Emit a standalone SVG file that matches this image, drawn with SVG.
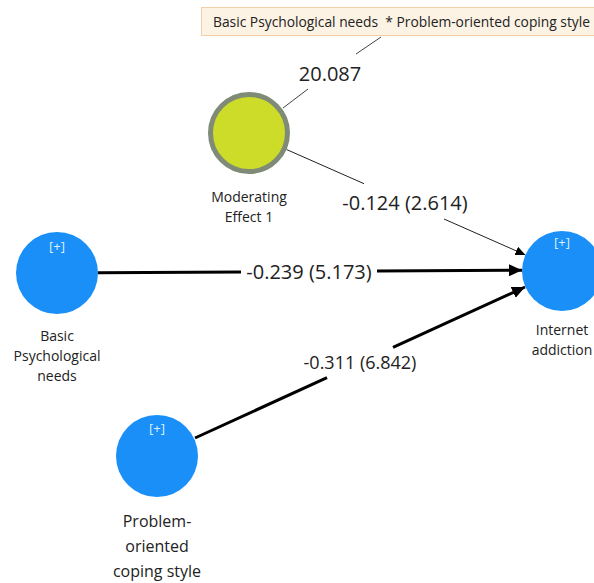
<svg xmlns="http://www.w3.org/2000/svg" width="594" height="583" viewBox="0 0 594 583">
<defs>
<style>
text{font-family:"Open Sans","Noto Sans","DejaVu Sans",sans-serif;}
.lbl{fill:#222;text-anchor:middle;font-size:14px;}
.num{fill:#222;font-size:20px;text-anchor:middle;}
.plus{fill:#dfefff;font-size:13px;text-anchor:middle;}
.lv{fill:#1a8ff7;}
.thick{stroke:#000;stroke-width:3;fill:none;}
.thin{stroke:#222;stroke-width:1;fill:none;}
.grey{stroke:#444;stroke-width:1;fill:none;}
</style>
<marker id="ahB" markerUnits="userSpaceOnUse" markerWidth="14" markerHeight="12" refX="13" refY="6" orient="auto"><path d="M0,0 L13,6 L0,12 Z" fill="#000"/></marker>
<marker id="ahS" markerUnits="userSpaceOnUse" markerWidth="11" markerHeight="10" refX="10" refY="4.5" orient="auto"><path d="M0,0 L10,4.5 L0,9 Z" fill="#000"/></marker>
</defs>
<g id="connectors">
<line class="grey" x1="381" y1="37" x2="356" y2="54"/>
<line class="grey" x1="308" y1="89" x2="283" y2="108"/>
<line class="thin" x1="286.5" y1="149.5" x2="364" y2="183.7"/>
<line class="thin" x1="444" y1="219" x2="525.4" y2="254.9" marker-end="url(#ahS)"/>
<line class="thick" x1="98" y1="272.8" x2="241" y2="271.9"/>
<line class="thick" x1="377" y1="271.1" x2="522" y2="270.2" marker-end="url(#ahB)"/>
<line class="thick" x1="195" y1="438" x2="327" y2="377.6"/>
<line class="thick" x1="393" y1="347.4" x2="525" y2="287" marker-end="url(#ahB)"/>
<text class="num" x="330" y="81">20.087</text>
<text class="num" x="405" y="210">-0.124 (2.614)</text>
<text class="num" x="309" y="279">-0.239 (5.173)</text>
<text class="num" x="360" y="369" style="font-size:18px">-0.311 (6.842)</text>
</g>
<g id="interaction-term">
<rect x="201.5" y="7.5" width="400" height="28" fill="#fdf3e4" stroke="#f2cfa6" stroke-width="1"/>
<text x="213" y="27" xml:space="preserve" textLength="377" lengthAdjust="spacingAndGlyphs" style="font-size:14px;fill:#222;white-space:pre">Basic Psychological needs  * Problem-oriented coping style</text>
</g>
<g id="moderating-effect">
<circle cx="249" cy="133" r="38.5" fill="#cddc29" stroke="#7f8b77" stroke-width="5"/>
<text class="lbl" x="249" y="202">Moderating</text>
<text class="lbl" x="249" y="222">Effect 1</text>
</g>
<g id="basic-psychological-needs">
<circle class="lv" cx="57" cy="273" r="41"/>
<text class="plus" x="57" y="251">[+]</text>
<text class="lbl" x="57" y="341">Basic</text>
<text class="lbl" x="57" y="361">Psychological</text>
<text class="lbl" x="57" y="381">needs</text>
</g>
<g id="internet-addiction">
<circle class="lv" cx="562" cy="271" r="40"/>
<text class="plus" x="562" y="247">[+]</text>
<text class="lbl" x="562" y="335">Internet</text>
<text class="lbl" x="562" y="355">addiction</text>
</g>
<g id="problem-oriented-coping-style">
<circle class="lv" cx="157" cy="456" r="41"/>
<text class="plus" x="157" y="433">[+]</text>
<text class="lbl" x="157" y="527" style="font-size:16px">Problem-</text>
<text class="lbl" x="157" y="552" style="font-size:16px">oriented</text>
<text class="lbl" x="157" y="577" style="font-size:16px">coping style</text>
</g>
</svg>
